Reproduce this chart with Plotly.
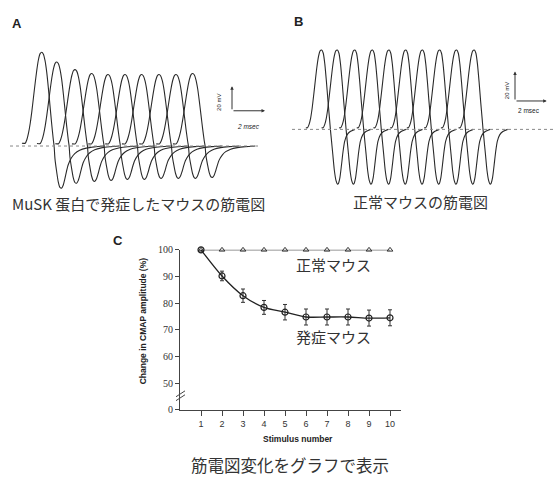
import plotly.graph_objects as go

W, H = 554, 484

# ---------------- data ----------------
# Panel A (MuSK-immunised mouse): 10 successive CMAPs (peak latency ms, peak mV, trough mV)
A_peak_t = [2.53, 3.44, 4.55, 5.56, 6.55, 7.58, 8.59, 9.64, 10.67, 11.68]
A_peak_mv = [76.6, 68.6, 62.4, 59.2, 58.4, 58.4, 58.4, 58.4, 58.4, 59.2]
A_trough_mv = [-34.4, -30.4, -28.8, -28.0, -27.2, -27.2, -26.4, -26.4, -26.4, -25.6]
# normalised waveform template of panel A (time relative to peak, ms)
A_tmpl_t = [-1.2, -1.0, -0.9, -0.8, -0.7, -0.6, -0.5, -0.4, -0.3, -0.2, -0.1, 0.0,
            0.1, 0.2, 0.3, 0.4, 0.5, 0.6, 0.7, 0.75, 0.8, 0.9, 1.0, 1.1, 1.2,
            1.3, 1.4, 1.5, 1.6, 1.8, 2.0, 2.3, 2.7, 3.2, 3.8]
A_tmpl_v = [0.03, 0.03, 0.07, 0.14, 0.24, 0.37, 0.52, 0.67, 0.81, 0.92, 0.985, 1.0,
            0.98, 0.91, 0.79, 0.62, 0.43, 0.24, 0.07, 0.0, -0.3, -0.6, -0.85, -0.98, -1.0,
            -0.93, -0.78, -0.6, -0.45, -0.28, -0.18, -0.1, -0.05, -0.02, 0.0]

# Panel B (normal mouse)
B_peak_t = [2.63, 3.62, 4.73, 5.84, 6.89, 7.95, 9.00, 10.09, 11.15, 12.26]
B_peak_mv = [54, 54, 54, 54, 54, 54, 54, 54, 54, 54]
B_trough_mv = [-37.3, -37.3, -37.3, -37.3, -37.3, -37.3, -37.3, -37.3, -37.3, -37.3]
B_tmpl_t = [-1.0, -0.9, -0.8, -0.7, -0.6, -0.5, -0.4, -0.3, -0.2, -0.1, 0.0,
            0.1, 0.2, 0.3, 0.4, 0.5, 0.55, 0.6, 0.7, 0.8, 0.9, 1.0, 1.05,
            1.15, 1.25, 1.35, 1.45, 1.6, 1.8, 2.1]
B_tmpl_v = [0.02, 0.02, 0.06, 0.14, 0.27, 0.44, 0.62, 0.79, 0.92, 0.99, 1.0,
            0.96, 0.82, 0.6, 0.35, 0.12, 0.0, -0.15, -0.45, -0.75, -0.93, -1.0, -0.99,
            -0.88, -0.65, -0.4, -0.22, -0.1, -0.04, 0.0]

# Panel C: CMAP amplitude change (%) vs stimulus number
stim = [1, 2, 3, 4, 5, 6, 7, 8, 9, 10]
normal_pct = [100, 100, 100, 100, 100, 100, 100, 100, 100, 100]
disease_pct = [100, 90.2, 82.8, 78.4, 76.6, 74.8, 74.8, 74.8, 74.4, 74.5]
disease_err = [0, 1.8, 2.5, 2.6, 2.9, 3.0, 3.0, 3.0, 3.0, 3.0]
y_tickvals = [40, 50, 60, 70, 80, 90, 100]
y_ticktext = ["0", "50", "60", "70", "80", "90", "100"]

# ---------------- helpers (layout only) ----------------
def px(x):
    return x / W

def py(y):
    return 1 - y / H

fig = go.Figure()

def add_sweeps(peak_t, peak_mv, trough_mv, tt, tv, xa, ya):
    for t0, pk, tr in zip(peak_t, peak_mv, trough_mv):
        xs = [t0 + t for t in tt]
        ys = [v * pk if v > 0 else v * abs(tr) for v in tv]
        fig.add_trace(go.Scatter(x=xs, y=ys, mode="lines", xaxis=xa, yaxis=ya,
                                 line=dict(color="#2a2a2a", width=1.1, shape="spline", smoothing=0.6),
                                 showlegend=False, hoverinfo="skip"))

add_sweeps(A_peak_t, A_peak_mv, A_trough_mv, A_tmpl_t, A_tmpl_v, "x", "y")
add_sweeps(B_peak_t, B_peak_mv, B_trough_mv, B_tmpl_t, B_tmpl_v, "x2", "y2")

# Panel C traces
fig.add_trace(go.Scatter(x=stim, y=normal_pct, mode="lines+markers", xaxis="x3", yaxis="y3",
                         line=dict(color="#333", width=1),
                         marker=dict(symbol="triangle-up-open", size=5, color="#333", line=dict(width=1)),
                         cliponaxis=False, showlegend=False))
fig.add_trace(go.Scatter(x=stim, y=disease_pct, mode="lines+markers", xaxis="x3", yaxis="y3",
                         line=dict(color="#222", width=1.3, shape="spline", smoothing=0.8),
                         marker=dict(symbol="circle-open", size=6, color="#222", line=dict(width=1.2)),
                         error_y=dict(type="data", array=disease_err, visible=True, color="#333",
                                      thickness=1, width=2),
                         cliponaxis=False, showlegend=False))

hidden = dict(visible=False, showgrid=False, zeroline=False, fixedrange=True)
A_pxms, A_pxmv = 16.5, 1.25
B_pxms, B_pxmv = 15.85, 1.5
fig.update_layout(
    width=W, height=H, margin=dict(l=0, r=0, t=0, b=0),
    paper_bgcolor="white", plot_bgcolor="rgba(0,0,0,0)",
    xaxis=dict(domain=[0, px(280)], range=[0, 280 / A_pxms], **hidden),
    yaxis=dict(domain=[py(195), py(30)], range=[-(195 - 144) / A_pxmv, (144 - 30) / A_pxmv], **hidden),
    xaxis2=dict(domain=[px(280), 1], range=[0, 274 / B_pxms], **hidden),
    yaxis2=dict(domain=[py(195), py(30)], range=[-(195 - 127) / B_pxmv, (127 - 30) / B_pxmv],
                anchor="x2", **hidden),
    xaxis3=dict(domain=[px(180), px(400.5)], range=[0, 10.5], anchor="y3",
                tickvals=stim, ticks="outside", ticklen=5, tickwidth=1, tickcolor="#444",
                showline=True, linecolor="#444", linewidth=1, showgrid=False, zeroline=False,
                tickfont=dict(family="Liberation Sans", size=9, color="#333")),
    yaxis3=dict(domain=[py(413.3), py(250)], range=[40, 100], anchor="x3",
                tickvals=y_tickvals, ticktext=y_ticktext, ticks="outside", ticklen=4, tickwidth=1,
                tickcolor="#444", showline=True, linecolor="#444", linewidth=1, showgrid=False,
                zeroline=False, tickfont=dict(family="Liberation Serif", size=10, color="#333")),
)
fig.update_layout(xaxis2_anchor="y2", yaxis_anchor="x")

# baselines (dotted)
fig.add_shape(type="line", xref="x", yref="y", x0=10 / A_pxms, x1=258 / A_pxms, y0=0, y1=0,
              line=dict(color="#888", width=1, dash="dot"))
fig.add_shape(type="line", xref="x2", yref="y2", x0=12 / B_pxms, x1=274 / B_pxms, y0=0, y1=0,
              line=dict(color="#888", width=1, dash="dot"))

# scale bars (20 mV, 2 msec) with arrow heads
def scalebar(xa, ya, x0, y0):
    fig.add_annotation(xref=xa, yref=ya, axref=xa, ayref=ya, x=x0, y=y0 + 20, ax=x0, ay=y0,
                       text="", showarrow=True, arrowhead=2, arrowsize=0.7, arrowwidth=1, arrowcolor="#333")
    fig.add_annotation(xref=xa, yref=ya, axref=xa, ayref=ya, x=x0 + 2, y=y0, ax=x0, ay=y0,
                       text="", showarrow=True, arrowhead=2, arrowsize=0.7, arrowwidth=1, arrowcolor="#333")

scalebar("x", "y", 232 / A_pxms, (144 - 108) / A_pxmv)
scalebar("x2", "y2", (515 - 280) / B_pxms, (127 - 98) / B_pxmv)

def text(x, y, s, size, family="Noto Sans CJK JP", bold=False, angle=0, color="#222", italic=False):
    if bold:
        s = "<b>" + s + "</b>"
    if italic:
        s = "<i>" + s + "</i>"
    fig.add_annotation(xref="paper", yref="paper", x=px(x), y=py(y), text=s, showarrow=False,
                       xanchor="center", yanchor="middle", textangle=angle,
                       font=dict(family=family, size=size, color=color))

text(219, 100, "20 mV", 6, family="Liberation Sans", angle=-90)
text(248, 124, "2 msec", 6.5, family="Liberation Sans", italic=True)
text(507, 88, "20 mV", 6, family="Liberation Sans", angle=-90)
text(529, 108, "2 msec", 6.5, family="Liberation Sans")

text(17, 19, "A", 13, family="Liberation Sans", bold=True)
text(298, 17, "B", 13, family="Liberation Sans", bold=True)
text(118, 240, "C", 13, family="Liberation Sans", bold=True)

text(138, 203, "MuSK 蛋白で発症したマウスの筋電図", 15, color="#333")
text(420, 201, "正常マウスの筋電図", 15, color="#333")
text(333, 265, "正常マウス", 15, color="#333")
text(333, 338, "発症マウス", 15, color="#333")
text(290, 470, "筋電図変化をグラフで表示", 16.5, color="#333")
text(298, 443, "Stimulus number", 8.5, family="Liberation Sans", bold=True)
text(143, 323, "Change in CMAP amplitude (%)", 8.5, family="Liberation Sans", bold=True, angle=-90)

# axis break marks
for dy in (0, 4):
    fig.add_shape(type="line", xref="paper", yref="paper",
                  x0=px(176), y0=py(400 + dy), x1=px(185), y1=py(394 + dy),
                  line=dict(color="#444", width=1))

fig.write_html("out.html")
